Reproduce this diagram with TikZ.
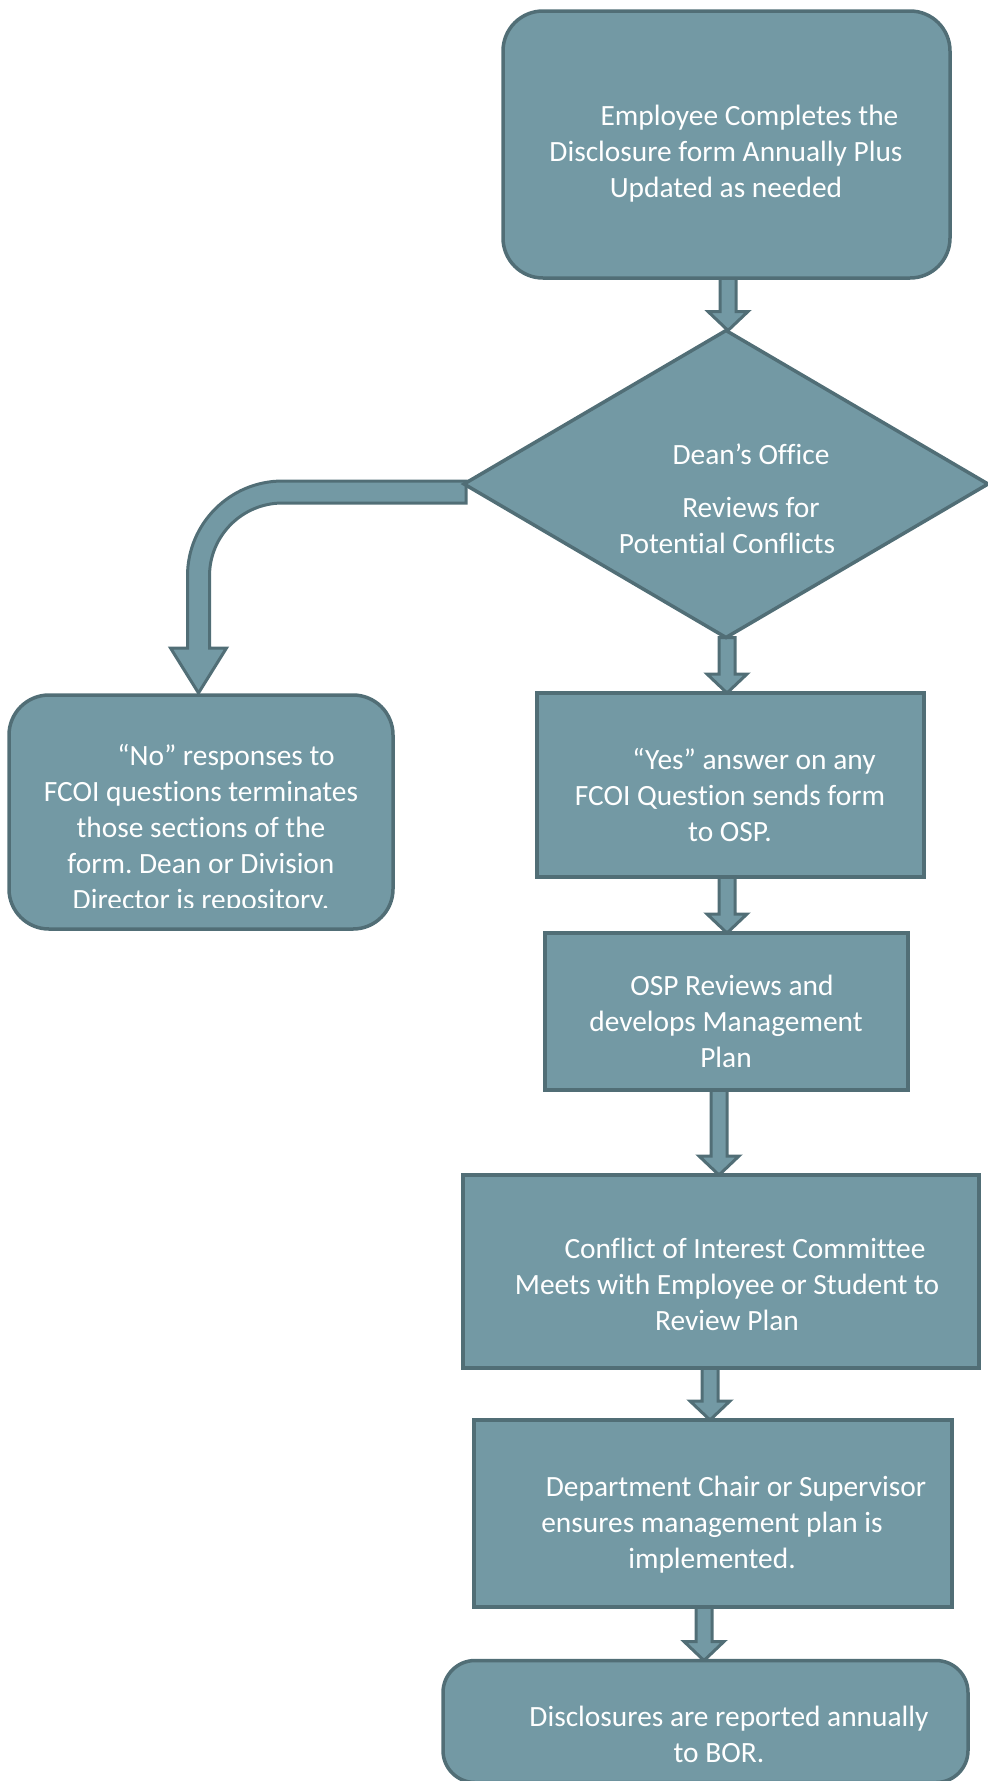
\documentclass[tikz,border=0pt]{standalone}
\usepackage{fontspec}
\setmainfont{Carlito}[Ligatures={NoCommon}]
\usetikzlibrary{shapes.geometric,calc,backgrounds}
\definecolor{boxfill}{RGB}{115,153,164}
\definecolor{boxline}{RGB}{81,110,118}
\frenchspacing
\tikzset{
  shapebase/.style={draw=boxline, fill=boxfill, line width=3.5pt, inner sep=0pt, outer sep=0pt},
  roundbox/.style={shapebase, rectangle, rounded corners=#1},
  squarebox/.style={shapebase, rectangle},
  decision/.style={shapebase, diamond},
  txt/.style={text=white, font=\fontsize{29.4}{36}\selectfont, align=center, inner sep=0pt},
  barrow/.style={draw=boxline, fill=boxfill, line width=3pt, line join=miter},
}
\newcommand\varrow[3]{%
  \path[barrow] let \p1=(#1.south), \p2=([xshift=#3]#2.north) in
    (\x2-8pt,\y1) -- (\x2-8pt,\y2+19pt) -- (\x2-20pt,\y2+19pt) -- (\x2,\y2)
    -- (\x2+20pt,\y2+19pt) -- (\x2+8pt,\y2+19pt) -- (\x2+8pt,\y1) -- cycle;}
\begin{document}
\begin{tikzpicture}[x=1pt,y=-1pt]
\useasboundingbox (0,0) rectangle (988,1781);
\clip (0,0) rectangle (988,1781);

% shapes
\node[roundbox=40pt, minimum width=447pt, minimum height=267pt] (top) at (726.5,144.5) {};
\node[decision, minimum width=524pt, minimum height=307pt] (dia) at (726,484) {};
\node[roundbox=40pt, minimum width=384pt, minimum height=234pt] (left) at (201,812) {};
\node[squarebox, minimum width=387pt, minimum height=184pt] (yes) at (730.5,785) {};
\node[squarebox, minimum width=363pt, minimum height=157pt] (osp) at (726.5,1011.5) {};
\node[squarebox, minimum width=516pt, minimum height=193pt] (conf) at (721,1271.5) {};
\node[squarebox, minimum width=478pt, minimum height=187pt] (dept) at (713,1513.5) {};
\node[roundbox=32pt, minimum width=525pt, minimum height=122pt] (bot) at (705.5,1721.5) {};

% texts
\node[txt] (ttop) at (726,154) {\hspace*{47pt}Employee Completes the\\Disclosure form Annually Plus\\Updated as needed};
\node[txt] (tdia) at (727,499) {\hspace*{48pt}Dean’s Office\\[17pt]\hspace*{48pt}Reviews for\\Potential Conflicts};
\begin{scope}
  \clip (0,0) rectangle (988,907);
  \node[txt] (tleft) at (201,829) {\hspace*{50pt}“No” responses to\\FCOI questions terminates\\those sections of the\\form. Dean or Division\\Director is repository.};
\end{scope}
\node[txt] (tyes) at (730,795) {\hspace*{48pt}“Yes” answer on any\\FCOI Question sends form\\to OSP.};
\node[txt] (tosp) at (726,1021) {\hspace*{12pt}OSP Reviews and\\develops Management\\Plan};
\node[txt] (tconf) at (727,1284) {\hspace*{36pt}Conflict of Interest Committee\\Meets with Employee or Student to\\Review Plan};
\node[txt] (tdept) at (712,1525) {\hspace*{48pt}Department Chair or Supervisor\\ensures management plan is\\implemented.};
\node[txt] (tbot) at (719,1734) {\hspace*{20pt}Disclosures are reported annually\\to BOR.};

% connectors (behind shapes)
\begin{pgfonlayer}{background}
  \varrow{top}{dia}{2pt}
  \varrow{dia}{yes}{-3.5pt}
  \varrow{yes}{osp}{0.5pt}
  \varrow{osp}{conf}{-2pt}
  \varrow{conf}{dept}{-3pt}
  \varrow{dept}{bot}{-1.5pt}
  \path[barrow] let \p1=(dia.west), \p2=([xshift=-2.5pt]left.north) in
    (\x1+2pt,\y1+3pt) -- (\x2+84pt,\y1+3pt)
    arc[start angle=90, end angle=180, radius=95pt]
    -- (\x2-11pt,\y2+47pt) -- (\x2-28pt,\y2+47pt) -- (\x2,\y2+2pt)
    -- (\x2+28pt,\y2+47pt) -- (\x2+11pt,\y2+47pt) -- (\x2+11pt,\y1-92pt)
    arc[start angle=180, end angle=90, radius=73pt]
    -- (\x1+2pt,\y1-19pt) -- cycle;
\end{pgfonlayer}
\end{tikzpicture}
\end{document}
